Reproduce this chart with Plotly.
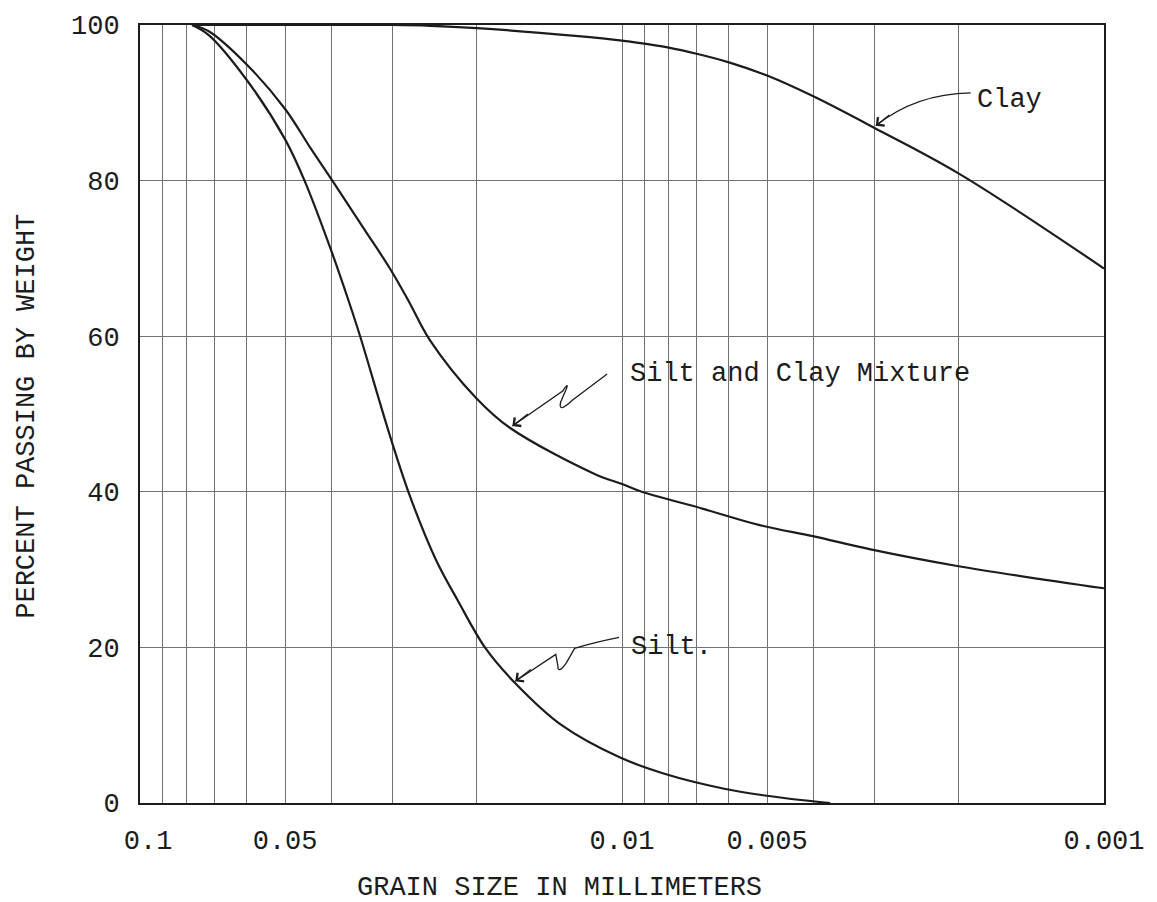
import plotly.graph_objects as go

# Grain size (mm) and percent passing by weight for each soil
silt_size = [0.078, 0.072, 0.060, 0.050, 0.0455, 0.040, 0.0368, 0.0349, 0.0303, 0.0276,
             0.0243, 0.0219, 0.0192, 0.01665, 0.01334, 0.01014, 0.0082, 0.0061, 0.0051,
             0.0042, 0.0037]
silt_pct = [100, 98.7, 92.9, 85.3, 79.9, 70.8, 64.3, 59.9, 47.2, 39.6,
            31.2, 26.0, 19.9, 15.4, 10.0, 5.9, 3.8, 1.8, 1.0,
            0.35, 0]

mix_size = [0.078, 0.072, 0.060, 0.050, 0.0442, 0.0398, 0.0343, 0.0303, 0.0277, 0.0251,
            0.0201, 0.01706, 0.0114, 0.0100, 0.0091, 0.00714, 0.00509, 0.00402, 0.00305,
            0.00203, 0.001]
mix_pct = [100, 99.2, 94.9, 89.2, 84.1, 79.9, 73.8, 68.7, 64.5, 59.6,
           52.1, 48.2, 42.3, 41.0, 40.0, 38.2, 35.6, 34.3, 32.6,
           30.5, 27.6]

clay_size = [0.078, 0.030, 0.025, 0.020, 0.0125, 0.010, 0.009, 0.008, 0.007, 0.006,
             0.005, 0.004, 0.003, 0.002, 0.001]
clay_pct = [100, 100, 99.9, 99.6, 98.6, 98.0, 97.6, 97.1, 96.3, 95.2,
            93.5, 90.8, 86.8, 80.9, 68.7]

x_tick_vals = [0.1, 0.05, 0.01, 0.005, 0.001]
x_tick_text = ["\u00a00.1", "0.05", "0.01", "0.005", "0.001"]
y_tick_vals = [0, 20, 40, 60, 80, 100]

FONT = "Liberation Mono, Courier New, monospace"
INK = "#1c1c1c"
GRID = "#727272"

fig = go.Figure()
for xs, ys in [(silt_size, silt_pct), (mix_size, mix_pct), (clay_size, clay_pct)]:
    fig.add_trace(go.Scatter(x=xs, y=ys, mode="lines",
                             line=dict(color=INK, width=2.2, shape="spline", smoothing=1.0),
                             hoverinfo="skip", showlegend=False))

# cycle grid lines at every 1..9 multiple of each decade
grid_vals = [m * 10 ** e for e in (-3, -2) for m in range(1, 10)]

fig.update_xaxes(type="log", range=[-1, -3],
                 tickvals=x_tick_vals, ticktext=x_tick_text, ticks="",
                 ticklabelstandoff=12,
                 showgrid=False,
                 minor=dict(tickvals=grid_vals, showgrid=True, gridcolor=GRID,
                            gridwidth=1, ticks=""),
                 showline=True, mirror=True, linecolor=INK, linewidth=2,
                 tickfont=dict(family=FONT, size=27, color=INK), zeroline=False)
fig.update_yaxes(range=[0, 100], tickvals=y_tick_vals, ticks="",
                 ticklabelstandoff=13,
                 showgrid=True, gridcolor=GRID, gridwidth=1,
                 showline=True, mirror=True, linecolor=INK, linewidth=2,
                 tickfont=dict(family=FONT, size=27, color=INK), zeroline=False)

txt = dict(family=FONT, size=27, color=INK)
annotations = [
    dict(text="GRAIN SIZE IN MILLIMETERS", x=0.4355, y=-0.109, xref="paper", yref="paper",
         showarrow=False, font=txt, xanchor="center", yanchor="middle"),
    dict(text="PERCENT PASSING BY WEIGHT", x=-0.1168, y=0.497, xref="paper", yref="paper",
         showarrow=False, font=txt, textangle=-90, xanchor="center", yanchor="middle"),
    dict(text="Clay", x=0.866, y=0.904, xref="paper", yref="paper",
         showarrow=False, font=txt, xanchor="left", yanchor="middle"),
    dict(text="Silt and Clay Mixture", x=0.5062, y=0.5513, xref="paper", yref="paper",
         showarrow=False, font=txt, xanchor="left", yanchor="middle"),
    dict(text="Silt.", x=0.5072, y=0.2000, xref="paper", yref="paper",
         showarrow=False, font=txt, xanchor="left", yanchor="middle"),
]

# open arrowheads at the tips of the callout leaders
for tip, tail in [((0.7633, 0.8705), (15, -12)),
                  ((0.3863, 0.4846), (17, -13)),
                  ((0.3893, 0.1564), (17, -13))]:
    annotations.append(dict(x=tip[0], y=tip[1], xref="paper", yref="paper", text="",
                            showarrow=True, ax=tail[0], ay=tail[1], arrowhead=4,
                            arrowsize=1.6, arrowwidth=1.3, arrowcolor=INK))

# hand-drawn style leaders, in plot-area fractions
clay_leader = "M 0.8617,0.9128 Q 0.8043,0.9115 0.7633,0.8705"
mix_leader = ("M 0.4846,0.5513 L 0.4488,0.5179 Q 0.4334,0.5000 0.4364,0.5154 "
              "L 0.4426,0.5333 Q 0.4446,0.5410 0.4385,0.5295 L 0.3863,0.4846")
silt_leader = ("M 0.4969,0.2128 Q 0.4713,0.2064 0.4508,0.1987 L 0.4426,0.1808 "
               "Q 0.4334,0.1641 0.4334,0.1769 L 0.4313,0.1910 L 0.3893,0.1564")

shapes = [dict(type="path", xref="paper", yref="paper", path=p,
               line=dict(color=INK, width=1.3))
          for p in (clay_leader, mix_leader, silt_leader)]

fig.update_layout(width=1157, height=902,
                  margin=dict(l=140, r=41, t=23, b=99),
                  paper_bgcolor="white", plot_bgcolor="white",
                  annotations=annotations, shapes=shapes,
                  font=dict(family=FONT, color=INK))

fig.write_html("out.html")
